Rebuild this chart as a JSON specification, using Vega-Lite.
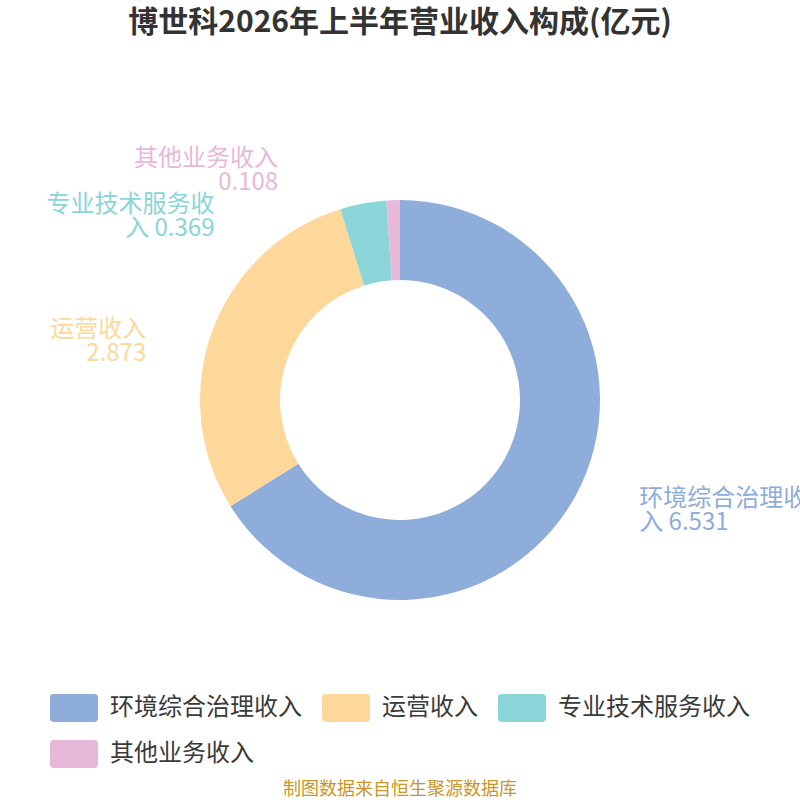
{
  "$schema": "https://vega.github.io/schema/vega-lite/v6.json",
  "autosize": {"type": "none"},
  "width": 800,
  "height": 700,
  "padding": {"top": 50, "bottom": 50, "left": 0, "right": 0},
  "background": "#ffffff",
  "title": {
    "text": "博世科2026年上半年营业收入构成(亿元)",
    "fontSize": 30,
    "fontWeight": "bold",
    "color": "#333333",
    "anchor": "middle",
    "offset": 12
  },
  "config": {
    "font": "Noto Sans CJK SC",
    "view": {"stroke": null}
  },
  "data": {
    "values": [
      {"item": "环境综合治理收入", "value": 6.531, "label": ["环境综合治理收", "入 6.531"]},
      {"item": "运营收入", "value": 2.873, "label": ["运营收入", "2.873"]},
      {"item": "专业技术服务收入", "value": 0.369, "label": ["专业技术服务收", "入 0.369"]},
      {"item": "其他业务收入", "value": 0.108, "label": ["其他业务收入", "0.108"]}
    ]
  },
  "encoding": {
    "theta": {"field": "value", "type": "quantitative", "stack": true},
    "order": {"field": "value", "type": "quantitative", "sort": "descending"},
    "color": {
      "field": "item",
      "type": "nominal",
      "scale": {
        "domain": ["环境综合治理收入", "运营收入", "专业技术服务收入", "其他业务收入"],
        "range": ["#8EADDA", "#FED89B", "#89D5D8", "#E8B8D8"]
      },
      "legend": {
        "orient": "none",
        "legendX": 50,
        "legendY": 634,
        "direction": "horizontal",
        "columns": 3,
        "title": "制图数据来自恒生聚源数据库",
        "titleOrient": "bottom",
        "titleAnchor": "middle",
        "titleFontSize": 18,
        "titleFontWeight": "normal",
        "titleColor": "#C8962A",
        "titlePadding": 13,
        "titleLimit": 700,
        "symbolType": "M-0.85,-0.58H0.85Q1,-0.58 1,-0.43V0.43Q1,0.58 0.85,0.58H-0.85Q-1,0.58 -1,0.43V-0.43Q-1,-0.58 -0.85,-0.58Z",
        "symbolSize": 2304,
        "symbolStrokeWidth": 0,
        "symbolOpacity": 1,
        "labelFontSize": 24,
        "labelColor": "#3a3a3a",
        "labelOffset": 12,
        "labelLimit": 400,
        "columnPadding": 20,
        "rowPadding": 8
      }
    }
  },
  "layer": [
    {"mark": {"type": "arc", "radius": 200, "innerRadius": 120}},
    {
      "mark": {"type": "text", "radius": 230, "align": "left", "baseline": "middle", "dx": 38, "dy": -12, "fontSize": 24, "lineHeight": 24},
      "encoding": {"text": {"condition": {"test": "datum.item === '环境综合治理收入'", "field": "label"}, "value": ""}}
    },
    {
      "mark": {"type": "text", "radius": 230, "align": "right", "baseline": "middle", "dx": -38, "dy": 10, "fontSize": 24, "lineHeight": 24},
      "encoding": {"text": {"condition": {"test": "datum.item === '运营收入'", "field": "label"}, "value": ""}}
    },
    {
      "mark": {"type": "text", "radius": 230, "align": "right", "baseline": "middle", "dx": -143, "dy": 31, "fontSize": 24, "lineHeight": 24},
      "encoding": {"text": {"condition": {"test": "datum.item === '专业技术服务收入'", "field": "label"}, "value": ""}}
    },
    {
      "mark": {"type": "text", "radius": 230, "align": "right", "baseline": "middle", "dx": -114, "dy": -11, "fontSize": 24, "lineHeight": 24},
      "encoding": {"text": {"condition": {"test": "datum.item === '其他业务收入'", "field": "label"}, "value": ""}}
    }
  ]
}
